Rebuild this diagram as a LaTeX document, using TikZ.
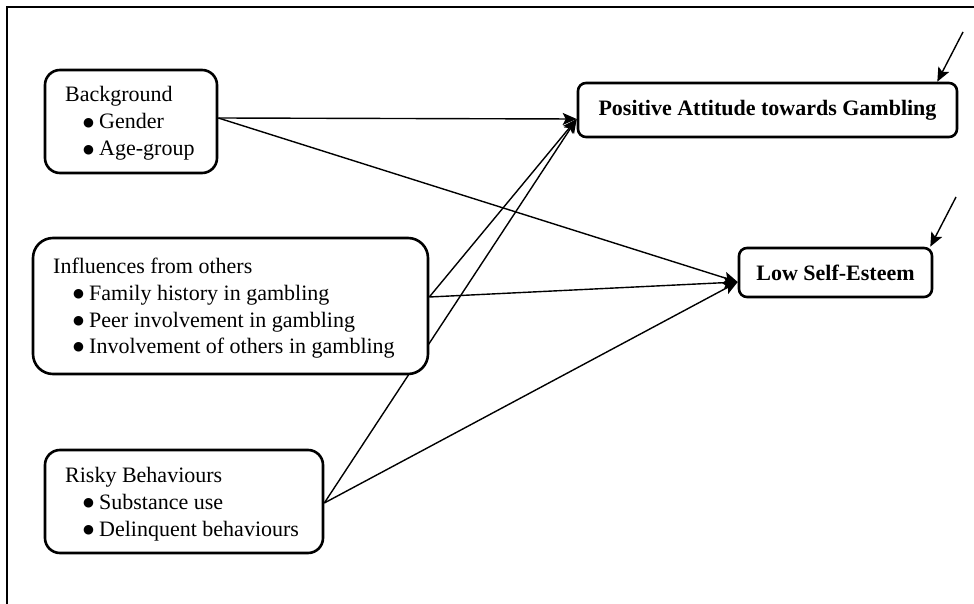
\documentclass[tikz,border=0pt]{standalone}
\usepackage{fontspec}
\setmainfont{Liberation Serif}
\newfontfamily\bulletfont{DejaVu Sans}
\usetikzlibrary{arrows.meta}
\pgfdeclarelayer{links}
\pgfsetlayers{links,main}
% round bullet followed by the item text at a fixed indent
\newcommand{\itembul}[1]{\makebox[16pt][l]{\raisebox{2.6pt}{\bulletfont\fontsize{12.5}{12.5}\selectfont ●}}#1}

\begin{document}
\begin{tikzpicture}[x=1pt,y=-1pt,
  font=\fontsize{22}{26}\selectfont,
  box/.style={draw, line width=2.6pt, fill=white, inner sep=0pt, rounded corners=#1},
  line/.style={anchor=base west, inner sep=0pt},
  link/.style={line width=1.4pt, -{Stealth[length=14pt,width=12pt,inset=3pt]}},
  frame/.style={line width=2.6pt}
]
\useasboundingbox (0,0) rectangle (974,604);

% page frame (top and left edges)
\draw[frame] (7,604) -- (7,7) -- (974,7);

% predictor boxes
\node[box=15pt, minimum width=172pt, minimum height=103pt] (bg) at (131,121.5) {};
\node[line] (bgT) at (65,102) {Background};
\node[line] (bg1) at (83,129) {\itembul{Gender}};
\node[line] (bg2) at (83,156) {\itembul{Age-group}};

\node[box=20pt, minimum width=395pt, minimum height=136pt] (inf) at (230.5,306) {};
\node[line] (infT) at (53,273) {Influences from others};
\node[line] (inf1) at (73,300) {\itembul{Family history in gambling}};
\node[line] (inf2) at (73,327) {\itembul{Peer involvement in gambling}};
\node[line] (inf3) at (73,353) {\itembul{Involvement of others in gambling}};

\node[box=15pt, minimum width=278pt, minimum height=103pt] (risk) at (184,501.5) {};
\node[line] (riskT) at (65,482) {Risky Behaviours};
\node[line] (risk1) at (83,509) {\itembul{Substance use}};
\node[line] (risk2) at (83,536) {\itembul{Delinquent behaviours}};

% outcome boxes
\node[box=8pt, minimum width=379pt, minimum height=54pt, font=\fontsize{22}{26}\selectfont\bfseries]
  (pa) at (767.5,110) {Positive Attitude towards Gambling};
\node[box=8pt, minimum width=193pt, minimum height=49pt, font=\fontsize{22}{26}\selectfont\bfseries]
  (lse) at (835.5,272.5) {Low Self-Esteem};

% error terms
\coordinate (paErr) at (963,32);
\coordinate (lseErr) at (956,197);

% paths (kept behind the boxes)
\begin{pgfonlayer}{links}
  \draw[link] ([yshift=3.5pt]bg.east) -- ([yshift=-9pt]pa.west);
  \draw[link] ([yshift=3.5pt]bg.east) -- ([yshift=-9.5pt]lse.west);
  \draw[link] ([yshift=9pt]inf.east) -- ([yshift=-9pt]pa.west);
  \draw[link] ([yshift=9pt]inf.east) -- ([yshift=-9.5pt]lse.west);
  \draw[link] ([yshift=-1.5pt]risk.east) -- ([yshift=-9pt]pa.west);
  \draw[link] ([yshift=-1.5pt]risk.east) -- ([yshift=-9.5pt]lse.west);
  \draw[link] (paErr) -- ([xshift=-21pt]pa.north east);
  \draw[link] (lseErr) -- ([xshift=-3pt]lse.north east);
\end{pgfonlayer}
\end{tikzpicture}
\end{document}
